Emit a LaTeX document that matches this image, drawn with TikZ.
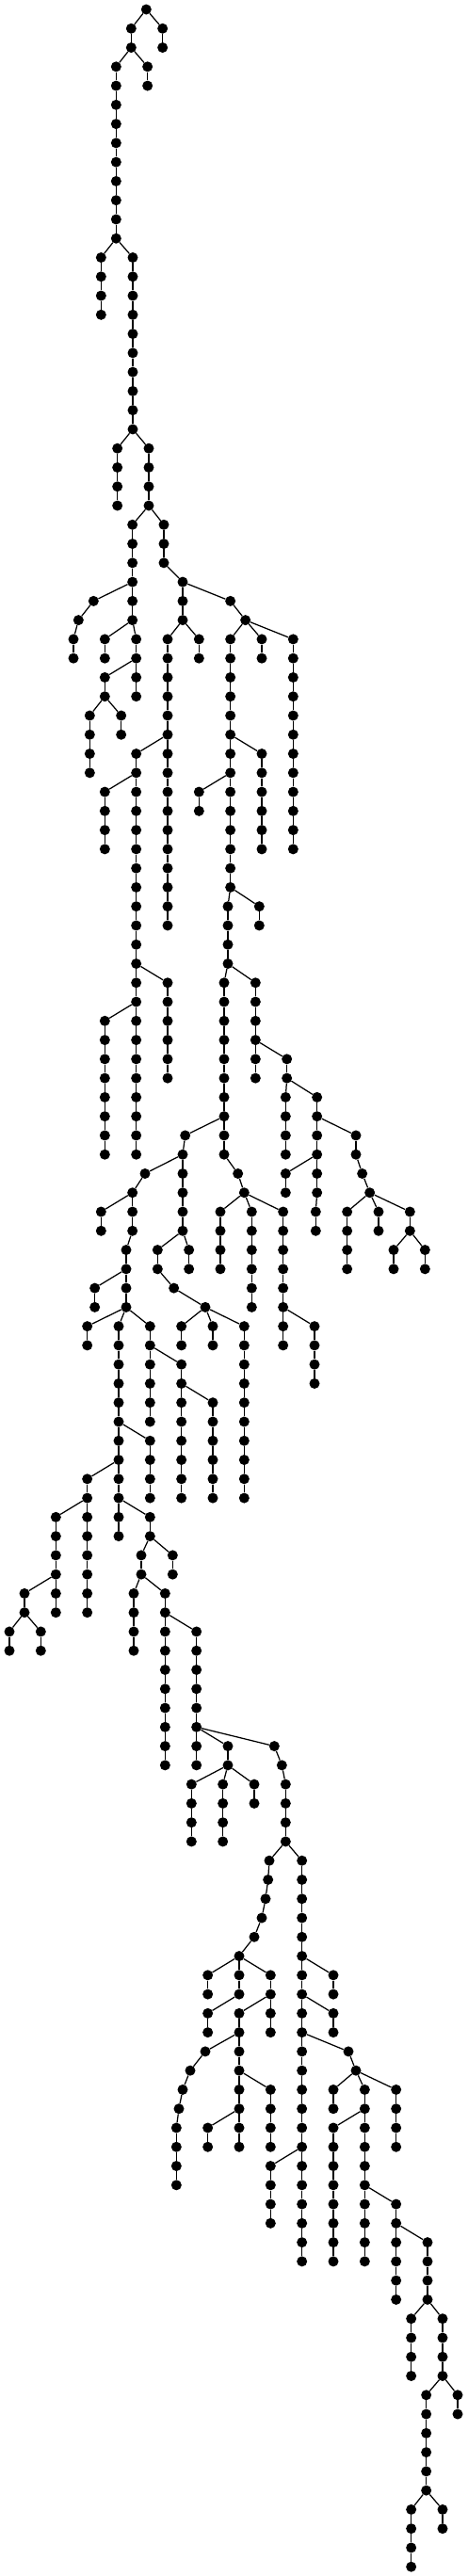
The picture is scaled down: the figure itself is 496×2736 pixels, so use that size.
\documentclass[tikz,border=0pt]{standalone}
\tikzset{
  dot/.style={circle,fill=black,draw=none,inner sep=0pt,minimum size=11pt},
  link/.style={draw=black,line width=1.25pt}
}
% \Ch{parent x}{parent level}{x}{count}: a chain of nodes hanging from v<parent x>-<parent level>
\newcommand\Ch[4]{\foreach \i in {1,...,#4}{%
  \pgfmathtruncatemacro\lv{#2+\i}\pgfmathtruncatemacro\lp{\lv-1}%
  \ifnum\i=1 \def\fromn{v#1-#2}\else \def\fromn{v#3-\lp}\fi
  \node[dot] (v#3-\lv) at ({#3/3},{-(10+20.27*\lv)}) {};
  \draw[link] (\fromn) -- (v#3-\lv);}}
\begin{document}
\begin{tikzpicture}[x=1pt,y=1pt]
\useasboundingbox (0,0) rectangle (496,-2736);
\node[dot] (v466-0) at ({466/3},-10) {};
\Ch{466}{0}{518}{2}
\Ch{466}{0}{418}{2}
\Ch{418}{2}{470}{2}
\Ch{418}{2}{370}{10}
\Ch{370}{12}{322}{4}
\Ch{370}{12}{423}{10}
\Ch{423}{22}{374}{4}
\Ch{423}{22}{474}{4}
\Ch{474}{26}{522}{3}
\Ch{474}{26}{422}{6}
\Ch{422}{30}{298}{1}
\Ch{298}{31}{250}{1}
\Ch{250}{32}{234}{2}
\Ch{422}{32}{334}{2}
\Ch{422}{32}{434}{4}
\Ch{434}{34}{334}{2}
\Ch{334}{36}{286}{4}
\Ch{334}{36}{386}{2}
\Ch{522}{29}{582}{3}
\Ch{582}{30}{734}{1}
\Ch{734}{31}{782}{1}
\Ch{782}{32}{834}{2}
\Ch{782}{32}{934}{12}
\Ch{782}{32}{734}{14}
\Ch{734}{38}{834}{6}
\Ch{734}{40}{634}{2}
\Ch{734}{46}{826}{2}
\Ch{734}{46}{726}{4}
\Ch{582}{32}{634}{2}
\Ch{582}{32}{534}{16}
\Ch{534}{38}{434}{22}
\Ch{434}{40}{334}{4}
\Ch{434}{50}{534}{6}
\Ch{434}{52}{334}{8}
\Ch{726}{50}{714}{10}
\Ch{726}{50}{814}{6}
\Ch{814}{54}{914}{2}
\Ch{914}{56}{910}{4}
\Ch{914}{56}{1010}{6}
\Ch{1010}{58}{1134}{2}
\Ch{1134}{60}{1154}{1}
\Ch{1154}{61}{1178}{1}
\Ch{1178}{62}{1106}{4}
\Ch{1178}{62}{1206}{2}
\Ch{1178}{62}{1306}{2}
\Ch{1306}{64}{1254}{2}
\Ch{1306}{64}{1354}{2}
\Ch{1010}{60}{910}{2}
\Ch{1010}{62}{1006}{2}
\Ch{714}{60}{758}{1}
\Ch{758}{61}{778}{1}
\Ch{778}{62}{702}{4}
\Ch{778}{62}{802}{6}
\Ch{778}{62}{902}{8}
\Ch{902}{68}{1002}{4}
\Ch{714}{58}{590}{1}
\Ch{590}{59}{582}{5}
\Ch{582}{64}{602}{2}
\Ch{582}{64}{502}{2}
\Ch{502}{66}{554}{1}
\Ch{554}{67}{654}{1}
\Ch{654}{68}{578}{2}
\Ch{654}{68}{678}{2}
\Ch{654}{68}{778}{10}
\Ch{582}{60}{462}{1}
\Ch{462}{61}{422}{3}
\Ch{422}{62}{322}{2}
\Ch{422}{64}{402}{2}
\Ch{402}{66}{302}{2}
\Ch{402}{66}{402}{2}
\Ch{402}{68}{278}{2}
\Ch{402}{68}{378}{12}
\Ch{402}{68}{478}{6}
\Ch{478}{70}{578}{8}
\Ch{578}{72}{678}{6}
\Ch{378}{74}{478}{4}
\Ch{378}{78}{478}{2}
\Ch{378}{76}{278}{8}
\Ch{278}{78}{178}{6}
\Ch{178}{82}{78}{2}
\Ch{78}{84}{30}{2}
\Ch{78}{84}{130}{2}
\Ch{478}{80}{550}{2}
\Ch{478}{80}{450}{2}
\Ch{450}{82}{426}{4}
\Ch{450}{82}{526}{10}
\Ch{526}{84}{626}{8}
\Ch{626}{90}{726}{2}
\Ch{726}{92}{610}{4}
\Ch{726}{92}{710}{4}
\Ch{726}{92}{810}{2}
\Ch{626}{90}{874}{1}
\Ch{874}{91}{898}{1}
\Ch{898}{92}{910}{4}
\Ch{910}{96}{858}{1}
\Ch{858}{97}{854}{1}
\Ch{854}{98}{846}{1}
\Ch{846}{99}{834}{1}
\Ch{834}{100}{810}{1}
\Ch{810}{101}{762}{3}
\Ch{762}{102}{662}{2}
\Ch{762}{102}{862}{2}
\Ch{762}{104}{662}{2}
\Ch{862}{104}{862}{2}
\Ch{862}{104}{762}{8}
\Ch{762}{106}{654}{1}
\Ch{654}{107}{606}{1}
\Ch{606}{108}{582}{1}
\Ch{582}{109}{570}{1}
\Ch{570}{110}{562}{4}
\Ch{762}{108}{862}{4}
\Ch{762}{110}{662}{2}
\Ch{910}{96}{962}{22}
\Ch{962}{102}{1062}{2}
\Ch{962}{104}{1062}{2}
\Ch{962}{106}{1110}{1}
\Ch{1110}{107}{1134}{1}
\Ch{1134}{108}{1062}{2}
\Ch{1134}{108}{1162}{10}
\Ch{1134}{108}{1262}{4}
\Ch{1162}{110}{1062}{8}
\Ch{1162}{114}{1262}{6}
\Ch{1262}{116}{1362}{4}
\Ch{1362}{120}{1310}{4}
\Ch{1362}{120}{1410}{4}
\Ch{1410}{124}{1458}{2}
\Ch{1410}{124}{1358}{6}
\Ch{1358}{130}{1410}{2}
\Ch{1358}{130}{1310}{4}
\Ch{962}{112}{862}{4}
\end{tikzpicture}
\end{document}
